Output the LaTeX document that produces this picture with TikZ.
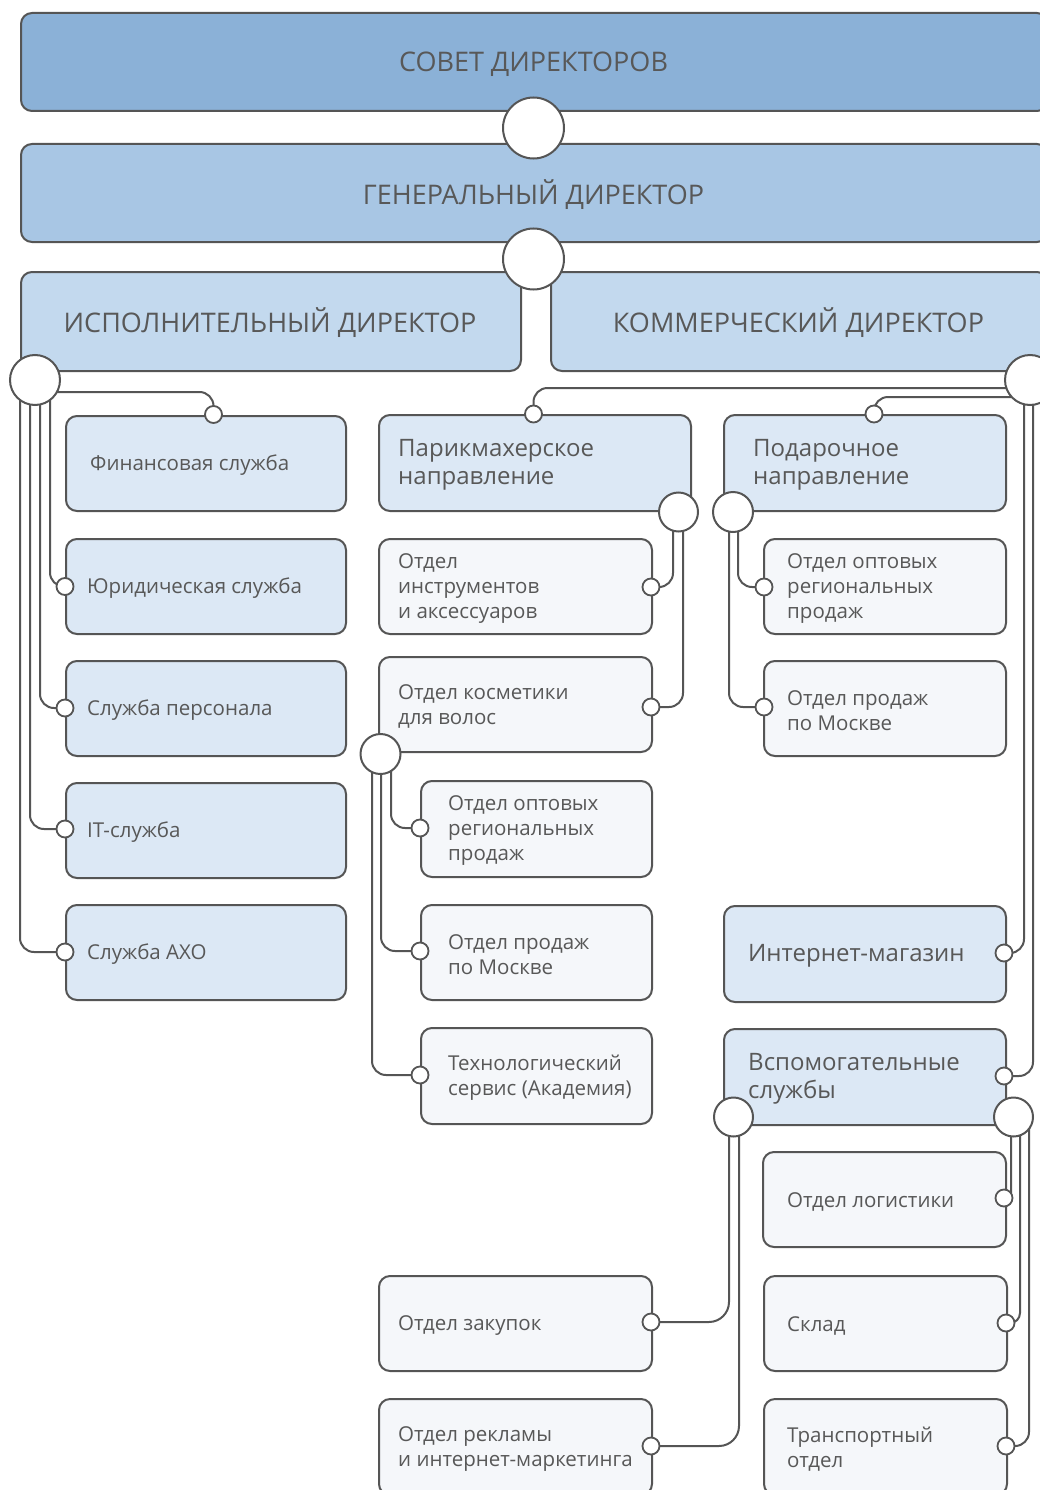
\documentclass[tikz,border=0pt]{standalone}
\usepackage{fontspec}
\setmainfont{Open Sans}
\pgfdeclarelayer{connlayer}
\pgfsetlayers{connlayer,main}
\definecolor{cBoard}{RGB}{139,177,215}
\definecolor{cGen}{RGB}{168,198,228}
\definecolor{cDir}{RGB}{195,217,238}
\definecolor{cLblue}{RGB}{220,232,245}
\definecolor{cLgray}{RGB}{245,247,250}
\definecolor{cEdge}{RGB}{85,85,85}
\definecolor{cTxt}{RGB}{88,88,88}
\tikzset{
  boxbase/.style={draw=cEdge, line width=2pt, rounded corners=11pt, inner sep=0pt},
  bluebox/.style={boxbase, fill=cLblue},
  graybox/.style={boxbase, fill=cLgray},
  conn/.style={draw=cEdge, line width=2pt, rounded corners=14pt},
  bigdot/.style={circle, draw=cEdge, line width=2pt, fill=white, inner sep=0pt, minimum size=#1},
  smalldot/.style={circle, draw=cEdge, line width=1.8pt, fill=white, inner sep=0pt, minimum size=17pt},
  hfont/.style={font=\fontsize{27}{32}\selectfont},
  bfont/.style={font=\fontsize{24}{28}\selectfont},
  sfont/.style={font=\fontsize{20.5}{25}\selectfont},
}
% name, style, x1, y1, x2, y2, left pad, font style, text
\newcommand{\orgbox}[9]{%
  \pgfmathsetmacro{\orgw}{#5-#3}%
  \pgfmathsetmacro{\orgh}{#6-#4}%
  \node[#2, anchor=north west, minimum width=\orgw pt, minimum height=\orgh pt] (#1) at (#3,#4) {};%
  \node[#8, anchor=west, align=left, inner sep=0pt, text=cTxt] (#1T) at ([xshift=#7pt, yshift=-2pt]#1.west) {#9};%
}
\begin{document}
\begin{tikzpicture}[x=1pt, y=-1pt]
\useasboundingbox (0,0) rectangle (1040,1490);
\begin{pgfonlayer}{connlayer}
  \fill[white] (0,0) rectangle (1040,1490);
\end{pgfonlayer}

% top level boxes
\node[boxbase, fill=cBoard, anchor=north west, minimum width=1027pt, minimum height=98pt] (board) at (20,12) {};
\node[hfont, text=cTxt, inner sep=0pt] (boardT) at (533.5,64) {СОВЕТ ДИРЕКТОРОВ};
\node[boxbase, fill=cGen, anchor=north west, minimum width=1027pt, minimum height=98pt] (gen) at (20,143) {};
\node[hfont, text=cTxt, inner sep=0pt] (genT) at (533.5,195) {ГЕНЕРАЛЬНЫЙ ДИРЕКТОР};
\node[boxbase, fill=cDir, anchor=north west, minimum width=500pt, minimum height=99pt] (execd) at (20,271) {};
\node[hfont, text=cTxt, inner sep=0pt] (execdT) at (270,323) {ИСПОЛНИТЕЛЬНЫЙ ДИРЕКТОР};
\node[boxbase, fill=cDir, anchor=north west, minimum width=497pt, minimum height=99pt] (comd) at (550,271) {};
\node[hfont, text=cTxt, inner sep=0pt] (comdT) at (798.5,323) {КОММЕРЧЕСКИЙ ДИРЕКТОР};

% executive branch
\orgbox{fin}{bluebox}{65}{415}{345}{510}{25}{sfont}{Финансовая служба}
\orgbox{jur}{bluebox}{65}{538}{345}{633}{22}{sfont}{Юридическая служба}
\orgbox{pers}{bluebox}{65}{660}{345}{755}{22}{sfont}{Служба персонала}
\orgbox{itsl}{bluebox}{65}{782}{345}{877}{22}{sfont}{IT-служба}
\orgbox{axo}{bluebox}{65}{904}{345}{999}{22}{sfont}{Служба АХО}

% hairdressing branch
\orgbox{par}{bluebox}{378}{414}{690}{510}{20}{bfont}{Парикмахерское\\направление}
\orgbox{instr}{graybox}{378}{538}{651}{633}{20}{sfont}{Отдел\\инструментов\\и аксессуаров}
\orgbox{cosm}{graybox}{378}{656}{651}{751}{20}{sfont}{Отдел косметики\\для волос}
\orgbox{opta}{graybox}{420}{780}{651}{876}{28}{sfont}{Отдел оптовых\\региональных\\продаж}
\orgbox{mosa}{graybox}{420}{904}{651}{999}{28}{sfont}{Отдел продаж\\по Москве}
\orgbox{tech}{graybox}{420}{1027}{651}{1123}{28}{sfont}{Технологический\\сервис (Академия)}

% gift branch
\orgbox{pod}{bluebox}{723}{414}{1005}{510}{30}{bfont}{Подарочное\\направление}
\orgbox{optb}{graybox}{763}{538}{1005}{633}{24}{sfont}{Отдел оптовых\\региональных\\продаж}
\orgbox{mosb}{graybox}{763}{660}{1005}{755}{24}{sfont}{Отдел продаж\\по Москве}

% internet shop and auxiliary services
\orgbox{inet}{bluebox}{723}{905}{1005}{1001}{25}{bfont}{Интернет-магазин}
\orgbox{vsp}{bluebox}{723}{1028}{1005}{1124}{25}{bfont}{Вспомогательные\\службы}
\orgbox{logi}{graybox}{762}{1151}{1005}{1246}{25}{sfont}{Отдел логистики}
\orgbox{skl}{graybox}{763}{1275}{1006}{1370}{24}{sfont}{Склад}
\orgbox{trn}{graybox}{763}{1398}{1006}{1494}{24}{sfont}{Транспортный\\отдел}
\orgbox{zak}{graybox}{378}{1275}{651}{1370}{20}{sfont}{Отдел закупок}
\orgbox{rek}{graybox}{378}{1398}{651}{1494}{20}{sfont}{Отдел рекламы\\и интернет-маркетинга}

% big joints
\node[bigdot=61pt] (c1) at (533.5,128) {};
\node[bigdot=61pt] (c2) at (533.5,259) {};
\node[bigdot=50pt] (cE) at (35,380) {};
\node[bigdot=50pt] (cK) at (1030,380) {};
\node[bigdot=39pt] (cP) at (678.5,512) {};
\node[bigdot=40pt] (cG) at (733,512) {};
\node[bigdot=40pt] (cC) at (380.5,754) {};
\node[bigdot=39pt] (cVL) at (733.5,1117) {};
\node[bigdot=39pt] (cVR) at (1013.5,1117) {};

% small joints
\node[smalldot] (dFin) at (213.5,414.5) {};
\node[smalldot] (dJur) at (65,586.5) {};
\node[smalldot] (dPers) at (65,708) {};
\node[smalldot] (dIT) at (65,829) {};
\node[smalldot] (dAXO) at (65,952) {};
\node[smalldot] (dPar) at (533.5,414) {};
\node[smalldot] (dPod) at (874,414) {};
\node[smalldot] (dInstr) at (651,587) {};
\node[smalldot] (dCosm) at (651,707) {};
\node[smalldot] (dOptA) at (420,828) {};
\node[smalldot] (dMosA) at (420,951) {};
\node[smalldot] (dTech) at (420,1075) {};
\node[smalldot] (dOptB) at (764,587) {};
\node[smalldot] (dMosB) at (764,707) {};
\node[smalldot] (dInet) at (1004,953) {};
\node[smalldot] (dVsp) at (1004,1076) {};
\node[smalldot] (dLog) at (1004,1198) {};
\node[smalldot] (dSkl) at (1006,1323) {};
\node[smalldot] (dTr) at (1006,1446) {};
\node[smalldot] (dZak) at (651,1322) {};
\node[smalldot] (dRek) at (651,1446) {};

% connectors
\begin{pgfonlayer}{connlayer}
  \draw[conn] ([yshift=-12pt]cE.center) -| (dFin.center);
  \draw[conn] ([xshift=15pt]cE.center) |- (dJur.center);
  \draw[conn] ([xshift=5pt]cE.center) |- (dPers.center);
  \draw[conn] ([xshift=-5pt]cE.center) |- (dIT.center);
  \draw[conn] ([xshift=-15pt]cE.center) |- (dAXO.center);

  \draw[conn] ([yshift=-8pt]cK.center) -| (dPar.center);
  \draw[conn] ([yshift=-17pt]cK.center) -| (dPod.center);
  \draw[conn] ([xshift=-6pt]cK.center) |- (dInet.center);
  \draw[conn] ([xshift=3pt]cK.center) |- (dVsp.center);

  \draw[conn] ([xshift=-5.5pt]cP.center) |- (dInstr.center);
  \draw[conn] ([xshift=4.5pt]cP.center) |- (dCosm.center);

  \draw[conn] ([xshift=5pt]cG.center) |- (dOptB.center);
  \draw[conn] ([xshift=-4pt]cG.center) |- (dMosB.center);

  \draw[conn] ([xshift=10.5pt]cC.center) |- (dOptA.center);
  \draw[conn] ([xshift=0.5pt]cC.center) |- (dMosA.center);
  \draw[conn] ([xshift=-8.5pt]cC.center) |- (dTech.center);

  \draw[conn, rounded corners=20pt] ([xshift=-4.5pt]cVL.center) |- (dZak.center);
  \draw[conn, rounded corners=20pt] ([xshift=5.5pt]cVL.center) |- (dRek.center);

  \draw[conn, rounded corners=5pt] ([xshift=-2.5pt]cVR.center) |- (dLog.center);
  \draw[conn, rounded corners=10pt] ([xshift=6.5pt]cVR.center) |- (dSkl.center);
  \draw[conn, rounded corners=14pt] ([xshift=15.5pt]cVR.center) |- (dTr.center);
\end{pgfonlayer}
\end{tikzpicture}
\end{document}
